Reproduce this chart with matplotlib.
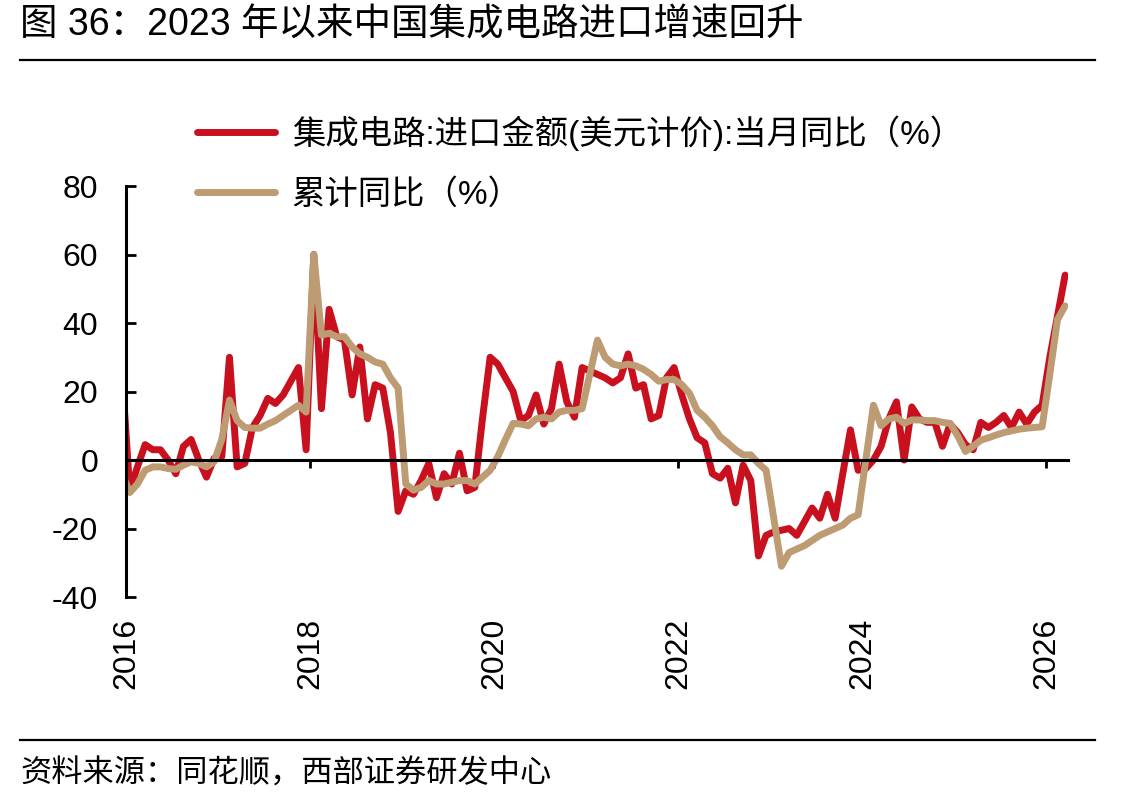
import numpy as np
import pandas as pd
import matplotlib
matplotlib.use("Agg")
import matplotlib.pyplot as plt

plt.rcParams['font.family'] = ['Liberation Sans', 'Noto Sans CJK SC', 'DejaVu Sans']
plt.rcParams['axes.unicode_minus'] = False

# monthly data, Dec 2015 .. Mar 2026
months = pd.date_range("2015-12-01", periods=124, freq="MS")

monthly_yoy = [
    25,
    -9, -2, 4.5, 3, 3, 0, -4, 4, 6, 0, -5, 0.5,
    1, 30, -2, -1, 9.5, 13, 18, 16.5, 19, 23, 27, 3,
    60, 15, 44, 36, 35, 19, 33, 12, 22, 21, 8, -15,
    -9, -10, -6, -1, -11, -4, -7, 2, -9, -8, 12, 30,
    28, 24, 20, 11.5, 13, 19, 10.5, 15, 28, 17, 12.5, 27,
    26, 25, 24, 22.5, 24, 31, 21, 22, 12, 13, 24, 27,
    19, 12, 6.5, 5, -4, -5.3, -2.4, -12.5, -1.5, -6, -28, -22,
    -21, -20.5, -20, -22, -18, -14, -17, -10, -17, -4, 8.8, -3,
    -2.5, 0, 4, 12, 17, 0, 15.5, 12, 11, 11, 4, 10.5,
    8, 4.5, 3, 11, 9.5, 11, 13, 9.5, 14, 10.5, 14, 16,
    30, 42, 54,
]

cumulative_yoy = [
    -4,
    -9.5, -7, -3, -2, -2, -2.5, -2.7, -1.5, -0.5, -1, -2, -0.5,
    6, 17.5, 11.5, 9.5, 9.3, 9.3, 10.5, 11.5, 13, 14.5, 16, 14,
    60, 36.5, 37, 36, 36, 33, 31, 30, 28.6, 28, 24, 21,
    -7, -8.8, -8, -6, -7, -7, -6.5, -6, -6, -7, -5, -3,
    1, 6, 10.7, 10.5, 10, 12, 12.5, 12, 14, 14.5, 14.5, 15,
    25, 35, 30, 28, 27.5, 28, 27.5, 26.5, 25, 23, 23.5, 23.5,
    22, 19.5, 14.5, 12.5, 10, 6.8, 5, 3, 1.5, 1.5, -1, -3,
    -17, -31, -27, -26, -25, -23.5, -22, -21, -20, -19, -17, -16,
    0, 16, 10, 12, 12.5, 10.7, 11.7, 11.7, 11.5, 11.5, 11, 10.7,
    7, 2.5, 4, 5.8, 6.5, 7.3, 8, 8.5, 9, 9.3, 9.5, 9.7,
    25, 41, 45,
]

label_monthly = "集成电路:进口金额(美元计价):当月同比（%）"
label_cum = "累计同比（%）"
title = "图 36：2023 年以来中国集成电路进口增速回升"
source = "资料来源：同花顺，西部证券研发中心"
year_ticks = [2016, 2018, 2020, 2022, 2024, 2026]
y_ticks = [-40, -20, 0, 20, 40, 60, 80]

red = "#C8101E"
tan = "#BD9B73"

x = months.year + (months.month - 0.5) / 12.0

fig = plt.figure(figsize=(11.44, 8.07), dpi=100)
ax = fig.add_axes([0.1101, 0.2602, 0.8235, 0.5093])

l1, = ax.plot(x, monthly_yoy, color=red, lw=5, solid_joinstyle="round",
              solid_capstyle="round", label=label_monthly)
l2, = ax.plot(x, cumulative_yoy, color=tan, lw=5, solid_joinstyle="round",
              solid_capstyle="round", label=label_cum)

ax.set_xlim(2016.0, 2026.24)
ax.set_ylim(-40, 80)
ax.set_yticks(y_ticks)
ax.set_xticks(year_ticks)

for s in ["top", "right"]:
    ax.spines[s].set_visible(False)
ax.spines["left"].set_linewidth(2.2)
ax.spines["bottom"].set_position(("data", 0))
ax.spines["bottom"].set_linewidth(2.2)

ax.tick_params(axis="y", direction="in", length=7, width=2, labelsize=23, pad=20)
ax.tick_params(axis="x", direction="out", length=6, width=2, labelbottom=False)

sec = ax.secondary_xaxis("bottom")
sec.set_xticks(year_ticks)
sec.set_xticklabels([str(t) for t in year_ticks], rotation=90)
sec.tick_params(axis="x", length=0, labelsize=23, pad=15)
sec.spines["bottom"].set_visible(False)

fig.legend(handles=[l1, l2], loc="upper left", bbox_to_anchor=(0.172, 0.857),
           frameon=False, fontsize=24, handlelength=2.35, handletextpad=0.5,
           labelspacing=0.85, borderpad=0, borderaxespad=0)

fig.text(0.0175, 0.969, title, fontsize=27, va="center", ha="left")
fig.add_artist(plt.Line2D([0.0175, 0.957], [0.926, 0.926], color="black", lw=1.6))
fig.add_artist(plt.Line2D([0.0175, 0.957], [0.083, 0.083], color="black", lw=1.6))
fig.text(0.0175, 0.040, source, fontsize=22.5, va="center", ha="left")

fig.savefig("out.png", dpi=100)
